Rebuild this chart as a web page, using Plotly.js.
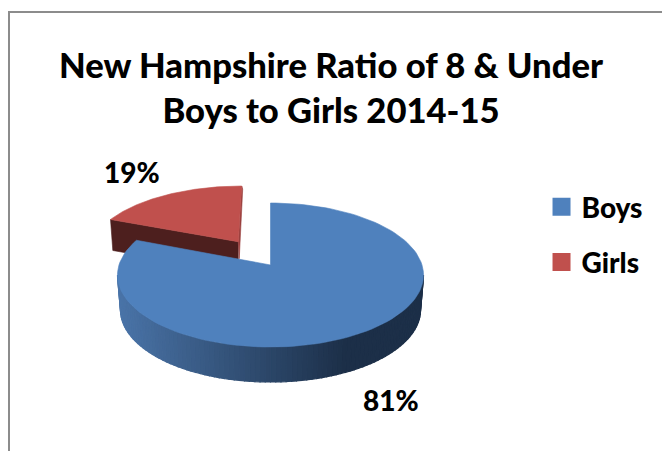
<!DOCTYPE html>
<html><head><meta charset="utf-8">
<script src="https://cdn.plot.ly/plotly-3.0.1.min.js"></script>
<style>html,body{margin:0;padding:0;background:#fff}#c{width:662px;height:451px}</style>
</head><body><div id="c"></div><script>
const categories = ['Boys', 'Girls'];
const values = [81, 19];
const colors = ['#4f81bd', '#c0504d'];
const titleLines = ['New Hampshire Ratio of 8 & Under', 'Boys to Girls 2014-15'];

const font = 'Lato, "Open Sans", sans-serif';
const total = values.reduce((a, b) => a + b, 0);
const fracs = values.map(v => v / total);
const persp = 0.139;   // how far the pie centre sits from the ellipse centre (perspective)
const D = Math.PI / 180;

// disc geometry of each slice's top face
const boysDisc = {cx: 270.5, cy: 275, rx: 153, ry: 72, shear: 0};
const girlsDisc = {cx: 237.7, cy: 250.7, rx: 147.4, ry: 64.7, shear: 4};

function project(disc, u, v) {
  const den = 1 + persp * v;
  const vp = (v + persp) / den;
  const up = u * Math.sqrt(1 - persp * persp) / den;
  return [disc.cx + disc.shear * vp + disc.rx * up, disc.cy - disc.ry * vp];
}
function slicePoly(disc, a0, a1) {
  const xs = [], ys = [];
  const c = project(disc, 0, 0);
  xs.push(c[0]); ys.push(c[1]);
  const n = 120;
  for (let i = 0; i <= n; i++) {
    const t = (a0 + (a1 - a0) * i / n) * 2 * Math.PI;
    const p = project(disc, Math.sin(t), Math.cos(t));
    xs.push(p[0]); ys.push(p[1]);
  }
  xs.push(c[0]); ys.push(c[1]);
  return {x: xs, y: ys};
}
function poly(p, color, name, lw) {
  return {type: 'scatter', mode: 'lines', x: p.x, y: p.y, fill: 'toself', fillcolor: color,
    line: {color: color, width: lw === undefined ? 0.6 : lw}, showlegend: false, hoverinfo: name ? 'text' : 'skip',
    text: name || '', name: name || ''};
}

const boysStart = 0, boysEnd = fracs[0], girlsEnd = fracs[0] + fracs[1];
const traces = [];

// Girls wall (front cut face)
const gCorner = project(girlsDisc, Math.sin(boysEnd * 2 * Math.PI), Math.cos(boysEnd * 2 * Math.PI));
const gApex = project(girlsDisc, 0, 0);
const gDepth = 31;
traces.push(poly({x: [gCorner[0], gApex[0], gApex[0], gCorner[0] + 2.3, gCorner[0]],
                  y: [gCorner[1], gApex[1], gApex[1] + gDepth, gCorner[1] + gDepth, gCorner[1]]}, '#4d1f1e'));
// Girls small right cut face
const gTop = project(girlsDisc, 0, 1);
traces.push(poly({x: [gTop[0], gTop[0] + 1, gApex[0] + 1, gApex[0], gTop[0]],
                  y: [gTop[1], gTop[1] + 3, gApex[1] + 17, gApex[1], gTop[1]]}, '#9a403e'));
// Girls top
traces.push(poly(slicePoly(girlsDisc, boysEnd, girlsEnd), colors[1], categories[1]));

// Boys outer wall, shaded from left to right
const wallTop = {cx: 270.5, cy: 275, rx: 153, ry: 72};
const wallBot = {cx: 270.5, cy: 310, rx: 150, ry: 72};
const leftC = [74, 116, 168], rightC = [28, 47, 72];
const strips = 90;
for (let i = 0; i < strips; i++) {
  const a = (90 + 180 * i / strips) * D, b = (90 + 180 * (i + 1) / strips) * D;
  const xm = wallTop.cx + wallTop.rx * Math.sin((a + b) / 2);
  const t = Math.min(1, Math.max(0, (xm - 117) / (345 - 117)));
  const col = 'rgb(' + leftC.map((l, k) => Math.round(l + (rightC[k] - l) * t)).join(',') + ')';
  const P = (e, an) => [e.cx + e.rx * Math.sin(an), e.cy - e.ry * Math.cos(an)];
  const q = [P(wallTop, a), P(wallTop, b), P(wallBot, b), P(wallBot, a)];
  traces.push(poly({x: [q[0][0], q[1][0], q[2][0], q[3][0], q[0][0]],
                    y: [q[0][1], q[1][1], q[2][1], q[3][1], q[0][1]]}, col, null, 1.2));
}
// Boys top
traces.push(poly(slicePoly(boysDisc, boysStart, boysEnd), colors[0], categories[0]));

// Legend entries
categories.forEach((c, i) => traces.push({type: 'scatter', mode: 'markers', x: [null], y: [null], name: c,
  legendgroup: c, showlegend: true, marker: {symbol: 'square', size: 16, color: colors[i], line: {color: colors[i], width: 2}}}));

const pct = values.map(v => Math.round(v / total * 100) + '%');
const labelFont = {family: font, size: 28, color: '#000', weight: 900};
const layout = {
  width: 662, height: 451, margin: {l: 0, r: 0, t: 0, b: 0, pad: 0},
  paper_bgcolor: '#fff', plot_bgcolor: '#fff', showlegend: true,
  title: {text: titleLines.join('<br>'), x: 0.5, xref: 'paper', xanchor: 'center', y: 0.828, yref: 'paper', yanchor: 'bottom',
          font: {family: font, size: 34.6, color: '#000', weight: 900}},
  xaxis: {visible: false, range: [0, 662], fixedrange: true},
  yaxis: {visible: false, range: [451, 0], fixedrange: true},
  legend: {x: 0.818, y: 0.5965, xanchor: 'left', yanchor: 'top', bgcolor: 'rgba(0,0,0,0)', tracegroupgap: 16,
           itemwidth: 30, font: labelFont},
  shapes: [{type: 'rect', xref: 'x', yref: 'y', x0: 9, y0: 12, x1: 720, y1: 520, layer: 'below',
            line: {color: '#8c8c8c', width: 2}}],
  annotations: [
    {x: 390.5, y: 400, xref: 'x', yref: 'y', text: pct[0], showarrow: false, font: labelFont},
    {x: 132, y: 172, xref: 'x', yref: 'y', text: pct[1], showarrow: false, font: labelFont}
  ]
};
Plotly.newPlot('c', traces, layout, {displayModeBar: false, staticPlot: true});
</script></body></html>
